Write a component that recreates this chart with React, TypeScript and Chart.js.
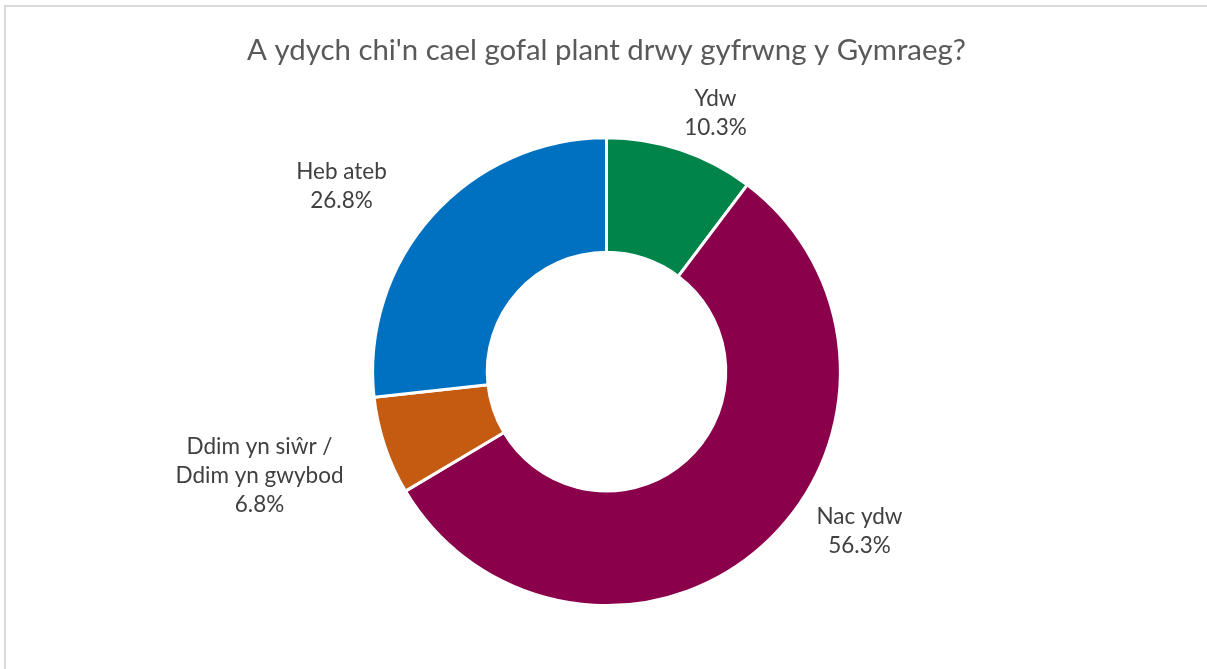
import React, { useEffect, useRef } from "react";
import { Chart, registerables } from "chart.js";

Chart.register(...registerables);

const titleText = "A ydych chi'n cael gofal plant drwy gyfrwng y Gymraeg?";
const categories = ["Ydw", "Nac ydw", "Ddim yn siŵr / Ddim yn gwybod", "Heb ateb"];
const labelLines = [["Ydw"], ["Nac ydw"], ["Ddim yn siŵr /", "Ddim yn gwybod"], ["Heb ateb"]];
const values = [10.3, 56.3, 6.8, 26.8];
const colors = ["#00844A", "#8A004A", "#C55A11", "#0070C0"];
// label block centre, offset from doughnut centre (px)
const labelOffsets = [
  [109, -258],
  [253, 160],
  [-347, 104],
  [-265, -185],
];

const labelPlugin = {
  id: "outsideLabels",
  afterDatasetsDraw(chart: any) {
    const meta = chart.getDatasetMeta(0);
    const ctx = chart.ctx;
    ctx.save();
    ctx.font = "22.5px Lato";
    ctx.fillStyle = "#404040";
    ctx.textAlign = "center";
    ctx.textBaseline = "middle";
    const lh = 29;
    meta.data.forEach((arc: any, i: number) => {
      const cx = arc.x + labelOffsets[i][0];
      const cy = arc.y + labelOffsets[i][1];
      const lines = [...labelLines[i], values[i].toFixed(1) + "%"];
      const top = cy - ((lines.length - 1) * lh) / 2;
      lines.forEach((t, k) => ctx.fillText(t, cx, top + k * lh));
    });
    ctx.restore();
  },
};

export default function App() {
  const ref = useRef<HTMLCanvasElement>(null);
  useEffect(() => {
    if (!ref.current) return;
    const chart = new Chart(ref.current, {
      type: "doughnut",
      data: {
        labels: categories,
        datasets: [
          {
            data: values,
            backgroundColor: colors,
            borderColor: "#ffffff",
            borderWidth: 3,
          },
        ],
      },
      options: {
        animation: false,
        responsive: true,
        maintainAspectRatio: false,
        cutout: "51%",
        layout: { padding: { top: 0, bottom: 62, left: 6, right: 0 } },
        plugins: {
          legend: { display: false },
          tooltip: { enabled: false },
          title: {
            display: true,
            text: titleText,
            color: "#595959",
            font: { family: "Lato", size: 29.4, weight: "normal" },
            padding: { top: 33, bottom: 68 },
          },
        },
      },
      plugins: [labelPlugin],
    });
    return () => chart.destroy();
  }, []);
  return (
    <>
      <div
        style={{
          position: "fixed",
          left: 4,
          top: 5,
          width: 1230,
          height: 700,
          border: "2px solid #d9d9d9",
          boxSizing: "border-box",
        }}
      />
      <div style={{ position: "fixed", left: 0, top: 0, width: 1207, height: 669 }}>
        <canvas ref={ref} />
      </div>
    </>
  );
}
